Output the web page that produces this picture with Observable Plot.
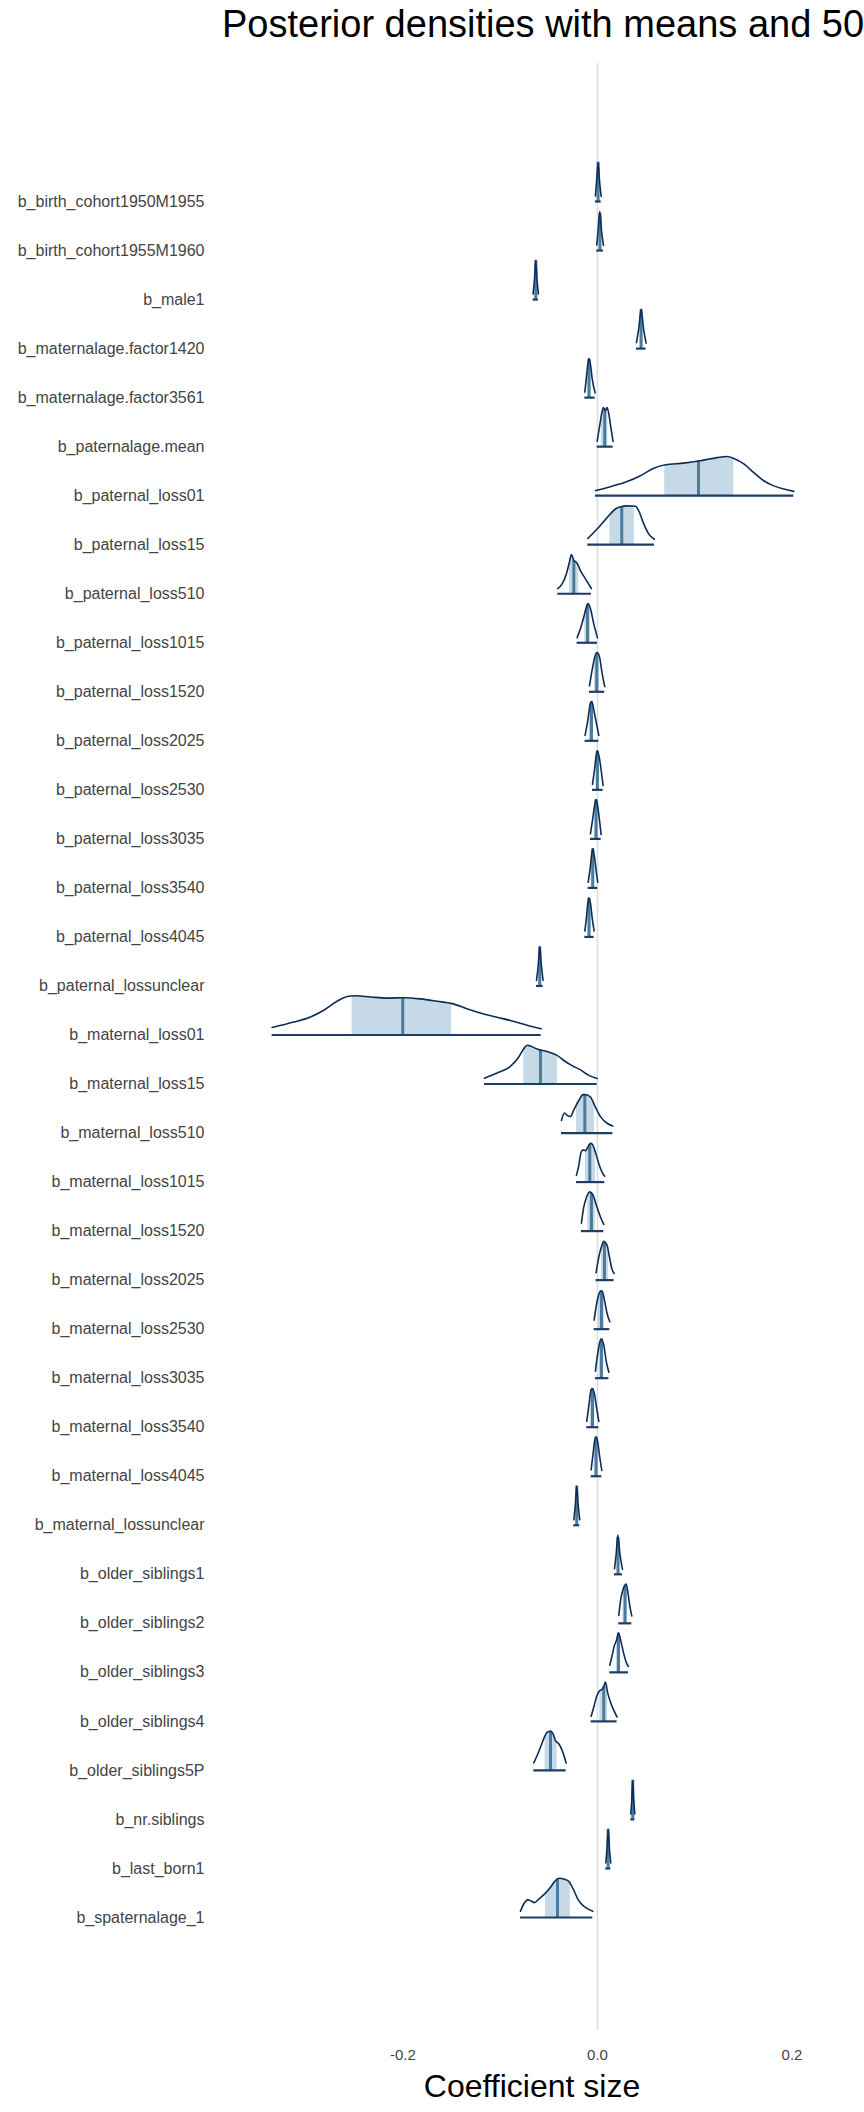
<!DOCTYPE html>
<html><head><meta charset="utf-8">
<script src="https://cdn.jsdelivr.net/npm/d3@7"></script>
<script src="https://cdn.jsdelivr.net/npm/@observablehq/plot@0.6"></script>
<style>
html,body{margin:0;padding:0;background:#fff;overflow:hidden;width:864px;height:2112px;}
#title{height:63px;position:relative;white-space:nowrap;overflow:hidden;width:864px;font-family:"Liberation Sans",Arial,Helvetica,sans-serif;}
#title span{position:absolute;left:222px;top:5px;font-size:38px;line-height:38px;color:#000;}
#xlab{font-family:"Liberation Sans",Arial,Helvetica,sans-serif;font-size:32px;line-height:32px;text-align:center;padding-left:200px;width:664px;color:#000;}
#chart svg{display:block;}
</style>
</head><body>
<div id="title"><span>Posterior densities with means and 50% intervals</span></div>
<div id="chart"></div>
<div id="xlab">Coefficient size</div>
<script>
const params = [
  "b_birth_cohort1950M1955","b_birth_cohort1955M1960","b_male1","b_maternalage.factor1420",
  "b_maternalage.factor3561","b_paternalage.mean","b_paternal_loss01","b_paternal_loss15",
  "b_paternal_loss510","b_paternal_loss1015","b_paternal_loss1520","b_paternal_loss2025",
  "b_paternal_loss2530","b_paternal_loss3035","b_paternal_loss3540","b_paternal_loss4045",
  "b_paternal_lossunclear","b_maternal_loss01","b_maternal_loss15","b_maternal_loss510",
  "b_maternal_loss1015","b_maternal_loss1520","b_maternal_loss2025","b_maternal_loss2530",
  "b_maternal_loss3035","b_maternal_loss3540","b_maternal_loss4045","b_maternal_lossunclear",
  "b_older_siblings1","b_older_siblings2","b_older_siblings3","b_older_siblings4",
  "b_older_siblings5P","b_nr.siblings","b_last_born1","b_spaternalage_1"
];

const means = [
  0.0007, 0.0026, -0.0634, 0.0449, -0.0086, 0.0075, 0.1039, 0.0250,
  -0.0243, -0.0103, -0.0007, -0.0062, 0.0000, -0.0014, -0.0048, -0.0086,
  -0.0593, -0.2002, -0.0586, -0.0130, -0.0079, -0.0062, 0.0072, 0.0041,
  0.0041, -0.0051, -0.0014, -0.0213, 0.0212, 0.0284, 0.0216, 0.0065,
  -0.0483, 0.0363, 0.0110, -0.0411
];

const innerLo = [
  -0.0003, 0.0014, -0.0641, 0.0437, -0.0103, 0.0041, 0.0692, 0.0127,
  -0.0288, -0.0130, -0.0031, -0.0086, -0.0017, -0.0031, -0.0065, -0.0103,
  -0.0601, -0.2523, -0.0758, -0.0216, -0.0123, -0.0099, 0.0041, 0.0010,
  0.0017, -0.0075, -0.0034, -0.0220, 0.0200, 0.0264, 0.0195, 0.0024,
  -0.0538, 0.0358, 0.0103, -0.0535
];

const innerHi = [
  0.0017, 0.0036, -0.0627, 0.0461, -0.0069, 0.0106, 0.1402, 0.0380,
  -0.0192, -0.0072, 0.0021, -0.0038, 0.0017, 0.0003, -0.0031, -0.0072,
  -0.0585, -0.1501, -0.0411, -0.0031, -0.0021, -0.0021, 0.0113, 0.0072,
  0.0065, -0.0027, 0.0007, -0.0206, 0.0224, 0.0305, 0.0240, 0.0106,
  -0.0415, 0.0368, 0.0117, -0.0278
];

// density curves: [coefficient, relative density]
const densities = [
  [[-0.0021,0.14],[-0.0009,0.5],[0.0007,1],[0.0022,0.5],[0.0038,0.13]],
  [[-0.0007,0.14],[0.0007,0.52],[0.0024,1],[0.0042,0.5],[0.0062,0.13]],
  [[-0.0662,0.14],[-0.0648,0.5],[-0.0634,1],[-0.0621,0.5],[-0.0607,0.14]],
  [[0.0401,0.15],[0.0425,0.52],[0.0449,1],[0.0474,0.5],[0.0500,0.14]],
  [[-0.0130,0.14],[-0.0112,0.55],[-0.0089,1],[-0.0072,0.85],[-0.0055,0.5],[-0.0024,0.12]],
  [[-0.0003,0.14],[0.0024,0.55],[0.0048,0.9],[0.0062,1],[0.0082,0.92],[0.0099,1],[0.0116,0.85],[0.0137,0.5],[0.0161,0.13]],
  [[-0.0020,0.13],[0.0134,0.23],[0.0305,0.36],[0.0442,0.51],[0.0579,0.70],[0.0699,0.79],[0.0888,0.83],[0.1059,0.89],[0.1230,0.97],[0.1333,1.0],[0.1402,0.95],[0.1505,0.81],[0.1608,0.59],[0.1710,0.38],[0.1813,0.25],[0.1916,0.17],[0.2019,0.11]],
  [[-0.0099,0.16],[-0.0003,0.40],[0.0099,0.69],[0.0185,0.91],[0.0237,0.97],[0.0305,0.99],[0.0391,0.98],[0.0425,0.86],[0.0476,0.53],[0.0528,0.27],[0.0586,0.14]],
  [[-0.0408,0.13],[-0.0363,0.25],[-0.0319,0.51],[-0.0288,0.81],[-0.0267,1.0],[-0.0243,0.85],[-0.0209,0.78],[-0.0175,0.59],[-0.0123,0.38],[-0.0062,0.13]],
  [[-0.0209,0.13],[-0.0175,0.36],[-0.0141,0.65],[-0.0113,0.92],[-0.0096,1.0],[-0.0072,0.87],[-0.0038,0.48],[0.0000,0.13]],
  [[-0.0082,0.15],[-0.0055,0.55],[-0.0027,0.89],[-0.0003,1],[0.0021,0.89],[0.0048,0.47],[0.0075,0.13]],
  [[-0.0127,0.14],[-0.0099,0.53],[-0.0072,0.96],[-0.0058,1],[-0.0031,0.7],[-0.0014,0.49],[0.0014,0.14]],
  [[-0.0051,0.14],[-0.0031,0.5],[-0.0010,0.93],[-0.0003,1],[0.0017,0.85],[0.0038,0.5],[0.0058,0.11]],
  [[-0.0072,0.13],[-0.0051,0.47],[-0.0031,0.82],[-0.0014,1],[0.0003,0.82],[0.0021,0.47],[0.0038,0.11]],
  [[-0.0096,0.14],[-0.0075,0.49],[-0.0058,0.88],[-0.0048,1],[-0.0031,0.79],[-0.0014,0.45],[0.0003,0.14]],
  [[-0.0130,0.15],[-0.0113,0.5],[-0.0099,0.86],[-0.0089,1],[-0.0072,0.86],[-0.0055,0.5],[-0.0034,0.15]],
  [[-0.0627,0.14],[-0.0610,0.5],[-0.0593,1],[-0.0576,0.5],[-0.0559,0.14]],
  [[-0.3345,0.19],[-0.3123,0.33],[-0.2951,0.46],[-0.2814,0.63],[-0.2677,0.86],[-0.2574,0.98],[-0.2488,1.0],[-0.2334,0.97],[-0.2163,0.94],[-0.1991,0.95],[-0.1820,0.92],[-0.1648,0.86],[-0.1494,0.80],[-0.1340,0.67],[-0.1203,0.56],[-0.1066,0.47],[-0.0895,0.37],[-0.0723,0.25],[-0.0579,0.16]],
  [[-0.1162,0.15],[-0.1032,0.28],[-0.0895,0.45],[-0.0809,0.69],[-0.0758,0.9],[-0.0723,0.99],[-0.0689,0.97],[-0.0620,0.89],[-0.0517,0.83],[-0.0415,0.73],[-0.0346,0.6],[-0.0261,0.47],[-0.0175,0.36],[-0.0089,0.22],[-0.0003,0.14]],
  [[-0.0370,0.32],[-0.0339,0.51],[-0.0312,0.45],[-0.0278,0.42],[-0.0243,0.59],[-0.0192,0.83],[-0.0147,0.98],[-0.0123,0.98],[-0.0072,0.92],[-0.0021,0.66],[0.0031,0.42],[0.0099,0.25],[0.0158,0.18]],
  [[-0.0216,0.17],[-0.0192,0.42],[-0.0168,0.76],[-0.0147,0.82],[-0.0123,0.8],[-0.0099,0.89],[-0.0072,0.99],[-0.0051,0.96],[-0.0021,0.76],[0.0014,0.47],[0.0048,0.25],[0.0075,0.15]],
  [[-0.0165,0.2],[-0.0141,0.61],[-0.0113,0.86],[-0.0079,1.0],[-0.0045,0.92],[-0.0010,0.65],[0.0031,0.36],[0.0065,0.17]],
  [[-0.0014,0.19],[0.0014,0.59],[0.0041,0.85],[0.0065,0.99],[0.0082,0.95],[0.0099,0.89],[0.0123,0.59],[0.0147,0.3],[0.0171,0.17]],
  [[-0.0034,0.23],[-0.0014,0.57],[0.0007,0.82],[0.0031,0.97],[0.0048,0.97],[0.0072,0.74],[0.0099,0.4],[0.0127,0.19]],
  [[-0.0021,0.18],[0.0003,0.63],[0.0024,0.92],[0.0041,1.0],[0.0065,0.84],[0.0089,0.45],[0.0117,0.15]],
  [[-0.0110,0.15],[-0.0086,0.6],[-0.0065,0.96],[-0.0051,0.98],[-0.0031,0.85],[-0.0010,0.51],[0.0014,0.15]],
  [[-0.0065,0.16],[-0.0045,0.58],[-0.0027,0.92],[-0.0014,1.0],[0.0003,0.87],[0.0021,0.53],[0.0045,0.15]],
  [[-0.0243,0.14],[-0.0228,0.5],[-0.0213,1],[-0.0198,0.5],[-0.0182,0.14]],
  [[0.0175,0.14],[0.0192,0.5],[0.0209,1],[0.0232,0.5],[0.0257,0.13]],
  [[0.0219,0.2],[0.0243,0.66],[0.0264,0.87],[0.0295,1.0],[0.0315,0.75],[0.0332,0.45],[0.0353,0.19]],
  [[0.0127,0.18],[0.0151,0.43],[0.0175,0.69],[0.0195,0.81],[0.0216,1.0],[0.0243,0.77],[0.0271,0.47],[0.0295,0.26],[0.0319,0.15]],
  [[-0.0065,0.13],[-0.0038,0.36],[-0.0010,0.62],[0.0017,0.77],[0.0041,0.81],[0.0062,0.87],[0.0082,1.0],[0.0106,0.72],[0.0134,0.49],[0.0168,0.28],[0.0202,0.11]],
  [[-0.0655,0.19],[-0.0620,0.38],[-0.0586,0.59],[-0.0552,0.81],[-0.0518,0.97],[-0.0483,1.0],[-0.0456,0.93],[-0.0432,0.76],[-0.0398,0.68],[-0.0363,0.51],[-0.0322,0.19]],
  [[0.0343,0.14],[0.0353,0.5],[0.0363,1],[0.0373,0.5],[0.0384,0.14]],
  [[0.0086,0.14],[0.0098,0.5],[0.0110,1],[0.0123,0.5],[0.0137,0.14]],
  [[-0.0792,0.16],[-0.0757,0.35],[-0.0716,0.45],[-0.0682,0.42],[-0.0648,0.38],[-0.0603,0.47],[-0.0535,0.62],[-0.0483,0.77],[-0.0439,0.92],[-0.0398,1.0],[-0.0346,0.98],[-0.0295,0.92],[-0.0250,0.73],[-0.0202,0.47],[-0.0151,0.31],[-0.0099,0.22],[-0.0048,0.16]]
];

const xTicks = [-0.2, 0, 0.2];

// ---- derived tables ----
function interp(arr, x) {
  if (x <= arr[0][0]) return arr[0][1];
  for (let k = 1; k < arr.length; k++) {
    if (x <= arr[k][0]) {
      const [x0, d0] = arr[k-1], [x1, d1] = arr[k];
      return d0 + (d1 - d0) * (x - x0) / (x1 - x0);
    }
  }
  return arr[arr.length-1][1];
}
const H = 0.8;
const rows = params.map((name, i) => ({
  i, name,
  lo: densities[i][0][0],
  hi: densities[i][densities[i].length-1][0],
  m: means[i],
  h: interp(densities[i], means[i])
}));
const pts = [];
densities.forEach((arr, i) => arr.forEach(([x, d]) => pts.push({i, x, d})));
const inner = [];
densities.forEach((arr, i) => {
  const a = innerLo[i], b = innerHi[i];
  inner.push({i, x: a, d: interp(arr, a)});
  arr.forEach(([x, d]) => { if (x > a && x < b) inner.push({i, x, d}); });
  inner.push({i, x: b, d: interp(arr, b)});
});

const chart = Plot.plot({
  width: 864,
  height: 2007,
  marginLeft: 210,
  marginRight: 14,
  marginTop: 0,
  marginBottom: 40,
  style: {fontFamily: "'Liberation Sans', Arial, Helvetica, sans-serif", color: "#444", background: "#fff"},
  x: {domain: [-0.3979, 0.2602]},
  y: {domain: [-2.815, 37.305], reverse: true},
  marks: [
    Plot.ruleX([0], {stroke: "#dcdcdc", strokeWidth: 1.5}),
    Plot.areaY(inner, {x: "x", y1: "i", y2: d => d.i - H * d.d, z: "i", fill: "#c6d9e7", curve: "monotone-x"}),
    Plot.ruleX(rows, {x: "m", y1: "i", y2: d => d.i - H * d.h, stroke: "#4b7b9c", strokeWidth: 3}),
    Plot.lineY(pts, {x: "x", y: d => d.i - H * d.d, z: "i", stroke: "#0d2d57", strokeWidth: 1.6, curve: "monotone-x"}),
    Plot.ruleY(rows, {y: "i", x1: "lo", x2: "hi", stroke: "#1d3c66", strokeWidth: 2.2}),
    Plot.axisY({ticks: d3.range(params.length), tickFormat: i => params[i], tickSize: 0, tickPadding: 6, fontSize: 16, label: null}),
    Plot.axisX({ticks: xTicks, tickFormat: d => d.toFixed(1), tickSize: 0, tickPadding: 19, fontSize: 15, label: null})
  ]
});
document.getElementById("chart").appendChild(chart);
</script>
</body></html>
